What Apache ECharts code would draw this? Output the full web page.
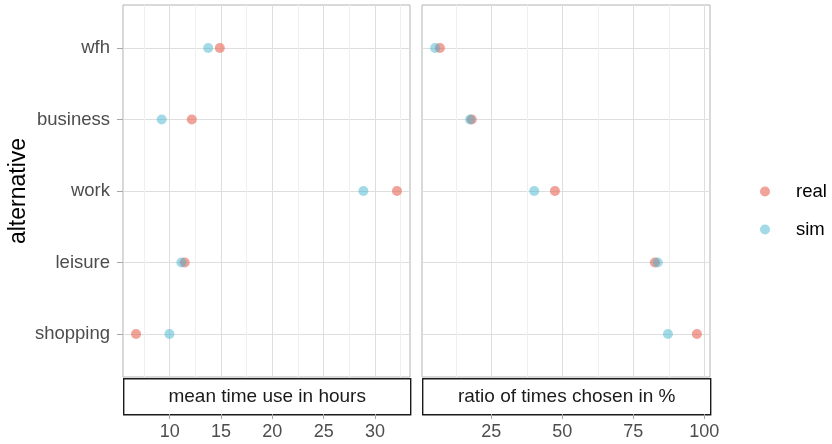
<!DOCTYPE html>
<html>
<head>
<meta charset="utf-8">
<script src="https://cdn.jsdelivr.net/npm/echarts@6/dist/echarts.min.js"></script>
<style>html,body{margin:0;padding:0;background:#fff}#c{width:832px;height:444px}</style>
</head>
<body>
<div id="c"></div>
<script>
// categories from bottom (1) to top (5)
var categories = ['shopping', 'leisure', 'work', 'business', 'wfh'];
var seriesNames = ['real', 'sim'];
var panelTitles = ['mean time use in hours', 'ratio of times chosen in %'];
// mean time use in hours
var timeReal = [6.72, 11.46, 32.14, 12.15, 14.88];
var timeSim  = [9.97, 11.14, 28.87, 9.22, 13.75];
// ratio of times chosen in %
var ratioReal = [97.4, 82.6, 47.4, 18.1, 6.9];
var ratioSim  = [87.2, 83.6, 40.1, 17.5, 5.2];
var timeTicks = [10, 15, 20, 25, 30];
var timeMinor = [7.5, 12.5, 17.5, 22.5, 27.5, 32.5];
var ratioTicks = [25, 50, 75, 100];
var ratioMinor = [12.5, 37.5, 62.5, 87.5];

var FONT = 'Liberation Sans, Arial, Helvetica, sans-serif';
var colReal = 'rgba(232,100,85,0.75)';
var colSim = 'rgba(60,180,205,0.6)';

function limits(arrs) {
  var all = [].concat.apply([], arrs);
  var mn = Math.min.apply(null, all), mx = Math.max.apply(null, all);
  var r = mx - mn;
  return [mn - 0.05 * r, mx + 0.05 * r];
}
var tl = limits([timeReal, timeSim]);
var rl = limits([ratioReal, ratioSim]);
var yTicks = categories.map(function (c, i) { return i + 1; });

function pts(arr) { return arr.map(function (v, i) { return [v, i + 1]; }); }

var grids = [
  {left: 123, top: 5, width: 287, height: 372},
  {left: 422, top: 5, width: 288, height: 372}
];
grids.forEach(function (g) {
  g.show = true; g.borderColor = '#b3b3b3'; g.borderWidth = 1; g.backgroundColor = '#fff';
});

function majorX(gi, lim, ticks) {
  return {
    type: 'value', gridIndex: gi, min: lim[0], max: lim[1], position: 'bottom', offset: 37,
    axisLine: {show: false},
    axisTick: {show: true, length: 5, customValues: ticks, lineStyle: {color: '#a6a6a6', width: 1}},
    axisLabel: {customValues: ticks, color: '#4d4d4d', fontSize: 18, fontFamily: FONT, margin: 9},
    splitLine: {show: true, lineStyle: {color: '#dedede', width: 1}}
  };
}
function minorX(gi, lim, ticks) {
  return {
    type: 'value', gridIndex: gi, min: lim[0], max: lim[1], position: 'bottom',
    axisLine: {show: false},
    axisTick: {show: false, customValues: ticks},
    axisLabel: {show: false, customValues: ticks},
    splitLine: {show: true, lineStyle: {color: '#efefef', width: 1}}
  };
}
function yAx(gi, showLabels) {
  return {
    type: 'value', gridIndex: gi, min: 0.4, max: 5.6,
    axisLine: {show: false},
    axisTick: {show: showLabels, length: 6, customValues: yTicks, lineStyle: {color: '#a6a6a6'}},
    axisLabel: {show: showLabels, customValues: yTicks, color: '#4d4d4d', fontSize: 18.5, fontFamily: FONT, margin: 13,
      formatter: function (v) { return categories[Math.round(v) - 1] || ''; }},
    splitLine: {show: true, lineStyle: {color: '#dedede', width: 1}},
    name: showLabels ? 'alternative' : '', nameLocation: 'middle', nameGap: 93, nameRotate: 90,
    nameTextStyle: {fontSize: 23, color: '#000', fontFamily: FONT}
  };
}

function sc(name, data, xi, yi, color) {
  return {
    type: 'scatter', name: name, xAxisIndex: xi, yAxisIndex: yi, data: pts(data),
    symbol: 'circle', symbolSize: 10, itemStyle: {color: color}, z: 5
  };
}

function strip(g, text) {
  return {
    type: 'group', left: g.left, top: 378,
    children: [
      {type: 'rect', shape: {x: 0, y: 0, width: g.width, height: 36},
       style: {fill: '#fff', stroke: '#1a1a1a', lineWidth: 1.4}},
      {type: 'text', x: g.width / 2, y: 18,
       style: {text: text, fill: '#1a1a1a', font: '19px ' + FONT, textAlign: 'center', textVerticalAlign: 'middle'}}
    ]
  };
}

var chart = echarts.init(document.getElementById('c'), null, {renderer: 'canvas'});
chart.setOption({
  animation: false,
  backgroundColor: '#fff',
  grid: grids,
  xAxis: [majorX(0, tl, timeTicks), majorX(1, rl, ratioTicks), minorX(0, tl, timeMinor), minorX(1, rl, ratioMinor)],
  yAxis: [yAx(0, true), yAx(1, false)],
  legend: {
    orient: 'vertical', left: 755, top: 177, itemWidth: 52, itemHeight: 10, itemGap: 19,
    icon: 'circle', data: seriesNames,
    textStyle: {fontSize: 18.5, color: '#000', fontFamily: FONT, lineHeight: 18}
  },
  series: [
    sc(seriesNames[0], timeReal, 0, 0, colReal),
    sc(seriesNames[1], timeSim, 0, 0, colSim),
    sc(seriesNames[0], ratioReal, 1, 1, colReal),
    sc(seriesNames[1], ratioSim, 1, 1, colSim)
  ],
  graphic: [strip(grids[0], panelTitles[0]), strip(grids[1], panelTitles[1])]
});
</script>
</body>
</html>
